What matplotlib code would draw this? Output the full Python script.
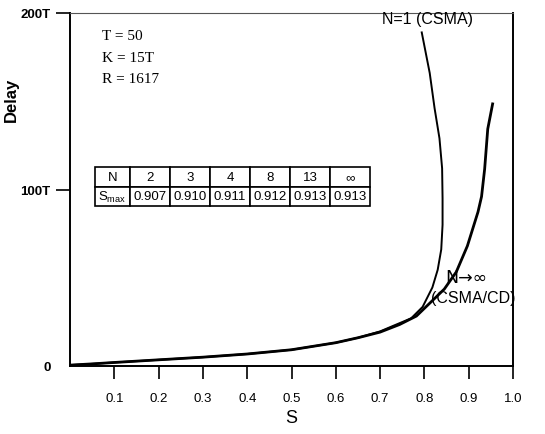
import matplotlib
matplotlib.use("Agg")
import matplotlib.pyplot as plt

plt.rcParams['font.family'] = ['Liberation Sans', 'DejaVu Sans']
plt.rcParams['mathtext.fontset'] = 'custom'
plt.rcParams['mathtext.rm'] = 'Liberation Sans'
plt.rcParams['mathtext.it'] = 'Liberation Sans:italic'
plt.rcParams['mathtext.bf'] = 'Liberation Sans:bold'

# ---- data ----
s_csma = [0.0, 0.05, 0.1, 0.2, 0.3, 0.4, 0.5, 0.6, 0.65, 0.70, 0.73, 0.77, 0.796,
          0.818, 0.830, 0.838, 0.841, 0.841, 0.840, 0.834, 0.823, 0.812, 0.794]
d_csma = [0.5, 1.2, 2.0, 3.5, 5.0, 6.8, 9.2, 13.2, 16.0, 19.6, 22.8, 27.0, 33.5,
          44.5, 54.5, 66.0, 80.0, 95.0, 112.0, 129.0, 146.0, 166.0, 189.0]

s_cd = [0.0, 0.05, 0.1, 0.2, 0.3, 0.4, 0.5, 0.6, 0.65, 0.70, 0.744, 0.782, 0.815,
        0.845, 0.872, 0.897, 0.921, 0.929, 0.936, 0.943, 0.954]
d_cd = [0.5, 1.2, 2.0, 3.5, 5.0, 6.8, 9.2, 13.2, 16.0, 19.2, 23.5, 28.3, 36.3,
        43.6, 53.3, 68.0, 87.3, 96.0, 111.6, 134.3, 148.5]

x_ticks = [0.1, 0.2, 0.3, 0.4, 0.5, 0.6, 0.7, 0.8, 0.9, 1.0]
x_tick_labels = ['0.1', '0.2', '0.3', '0.4', '0.5', '0.6', '0.7', '0.8', '0.9', '1.0']
y_ticks = [0, 100, 200]
y_tick_labels = ['0', '100T', '200T']

table_n = ['N', '2', '3', '4', '8', '13', '\u221e']
table_smax = ['S$_{\\rm max}$', '0.907', '0.910', '0.911', '0.912', '0.913', '0.913']

params = ['T = 50', 'K = 15T', 'R = 1617']

# ---- figure ----
fig = plt.figure(figsize=(5.45, 4.35), dpi=100)
ax = fig.add_axes([70/545, (435-367)/435, 443/545, 353/435])

ax.plot(s_csma, d_csma, color='black', lw=1.4)
ax.plot(s_cd, d_cd, color='black', lw=2.0)

ax.set_xlim(0, 1.0)
ax.set_ylim(0, 200)
ax.set_xticks(x_ticks)
ax.set_xticklabels(x_tick_labels, fontsize=9.5)
ax.set_yticks(y_ticks)
ax.set_yticklabels(y_tick_labels, fontsize=9.5, fontweight='bold')
ax.tick_params(axis='x', direction='out', length=9, width=1.2, pad=10)
ax.tick_params(axis='y', direction='out', length=10, width=1.2, pad=4)
ax.yaxis.get_major_ticks()[0].tick1line.set_visible(False)

for side in ['left', 'bottom', 'right']:
    ax.spines[side].set_linewidth(1.4)
ax.spines['top'].set_linewidth(0.8)
ax.spines['top'].set_color('#555555')

ax.set_xlabel('S', fontsize=13, labelpad=3)
ax.set_ylabel('Delay', fontsize=12, fontweight='bold', labelpad=8)
ax.yaxis.set_label_coords(-0.115, 0.756)

# parameter text
for i, t in enumerate(params):
    ax.text(0.072, 0.935 - i*0.06, t, transform=ax.transAxes, fontsize=11,
            family=['Liberation Serif'], va='center', ha='left')

# curve labels
ax.text(0.705, 0.985, 'N=1 (CSMA)', transform=ax.transAxes, fontsize=11.5,
        va='center', ha='left')
ax.text(0.848, 0.252, 'N\u2192\u221e', transform=ax.transAxes,
        fontsize=12.5, family=['DejaVu Sans'], va='center', ha='left')
ax.text(0.815, 0.195, '(CSMA/CD)', transform=ax.transAxes, fontsize=11.5,
        va='center', ha='left')

# table
col_w = [35] + [40]*6
tot = sum(col_w)
tbl = ax.table(cellText=[table_n, table_smax], cellLoc='center',
               colWidths=[w/tot for w in col_w],
               bbox=[25/443, (367-207)/353, tot/443, 39/353])
tbl.auto_set_font_size(False)
tbl.set_fontsize(9.5)
for (r, c), cell in tbl.get_celld().items():
    cell.set_linewidth(1.2)
    cell.set_edgecolor('black')

fig.savefig('out.png', dpi=100)
